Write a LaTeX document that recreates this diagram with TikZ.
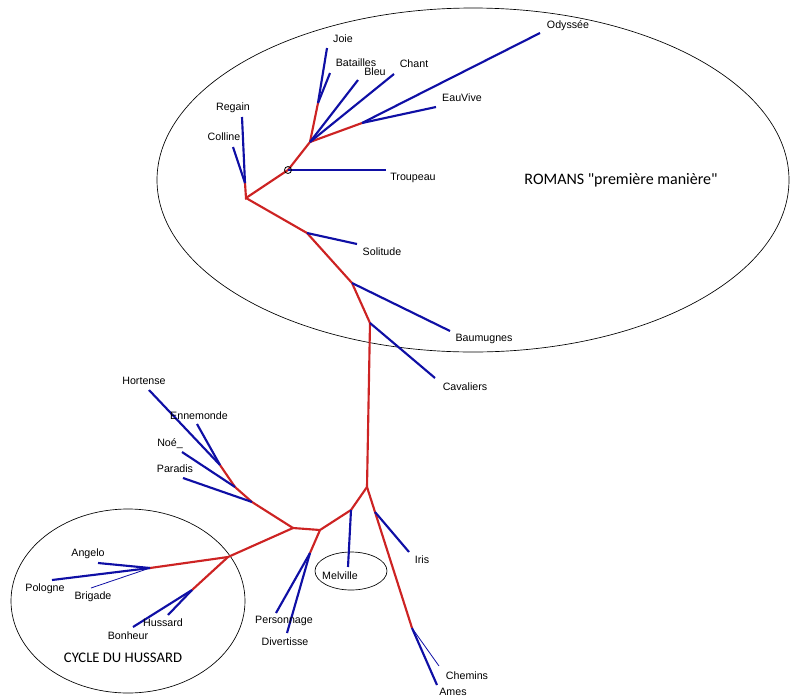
\documentclass[tikz,border=0pt]{standalone}
\usepackage{fontspec}
\setmainfont{Liberation Sans}
\newfontfamily\groupfont{Carlito}
\usepackage{tikz}
\definecolor{branchred}{RGB}{205,35,35}
\definecolor{leafblue}{RGB}{15,15,165}
\tikzset{
  inner/.style={draw=branchred, line width=1.6pt},
  leaf/.style={draw=leafblue, line width=1.6pt},
  thinleaf/.style={draw=leafblue, line width=0.6pt},
  title/.style={font=\fontsize{8}{9}\selectfont, inner sep=1pt},
  grouptitle/.style={font=\groupfont\fontsize{11}{13}\selectfont, inner sep=1pt},
  group/.style={draw, line width=0.5pt}
}

\begin{document}
\begin{tikzpicture}[x=0.75pt, y=-0.75pt]
\useasboundingbox (0,0) rectangle (793,697);

\draw[group] (473,180) ellipse (316 and 172);
\draw[group] (128,601) ellipse (117 and 92);
\draw[group] (351,571) ellipse (36 and 19);

\coordinate (a) at (246,198);
\coordinate (b) at (245,183);
\coordinate (c) at (288,170);
\coordinate (d) at (310,142);
\coordinate (e) at (318,103);
\coordinate (g) at (362,123);
\coordinate (h) at (307,233);
\coordinate (i) at (352,283);
\coordinate (j) at (370,323);
\coordinate (k) at (367,487);
\coordinate (l) at (351,510);
\coordinate (m) at (320,530);
\coordinate (n) at (310,553);
\coordinate (o) at (293,528);
\coordinate (p) at (252,502);
\coordinate (q) at (235,487);
\coordinate (r) at (220,465);
\coordinate (s) at (228,557);
\coordinate (t) at (150,568);
\coordinate (u) at (192,590);
\coordinate (v) at (375,512);
\coordinate (w) at (412,628);

\coordinate (regain) at (242,117);
\coordinate (colline) at (233,147);
\coordinate (troupeau) at (386,170);
\coordinate (joie) at (327,48);
\coordinate (batailles) at (330,73);
\coordinate (bleu) at (358,80);
\coordinate (chant) at (394,74);
\coordinate (odyssee) at (540,33);
\coordinate (eauvive) at (436,107);
\coordinate (solitude) at (357,244);
\coordinate (baumugnes) at (450,331);
\coordinate (cavaliers) at (435,378);
\coordinate (melville) at (348,567);
\coordinate (personnage) at (276,613);
\coordinate (divertisse) at (287,633);
\coordinate (paradis) at (183,478);
\coordinate (noe) at (182,452);
\coordinate (ennemonde) at (197,424);
\coordinate (hortense) at (149,390);
\coordinate (angelo) at (98,563);
\coordinate (pologne) at (52,580);
\coordinate (brigade) at (91,588);
\coordinate (bonheur) at (133,627);
\coordinate (hussard) at (168,615);
\coordinate (iris) at (409,552);
\coordinate (chemins) at (439,666);
\coordinate (ames) at (437,685);

\draw[inner] (b) -- (a) -- (c) -- (d) -- (e);
\draw[inner] (d) -- (g);
\draw[inner] (a) -- (h) -- (i) -- (j) -- (k) -- (l) -- (m) -- (o) -- (p) -- (q) -- (r);
\draw[inner] (m) -- (n);
\draw[inner] (o) -- (s) -- (t);
\draw[inner] (s) -- (u);
\draw[inner] (k) -- (v) -- (w);

\draw[leaf] (b) -- (regain);
\draw[leaf] (b) -- (colline);
\draw[leaf] (c) -- (troupeau);
\draw[leaf] (e) -- (joie);
\draw[leaf] (e) -- (batailles);
\draw[leaf] (d) -- (bleu);
\draw[leaf] (d) -- (chant);
\draw[leaf] (g) -- (odyssee);
\draw[leaf] (g) -- (eauvive);
\draw[leaf] (h) -- (solitude);
\draw[leaf] (i) -- (baumugnes);
\draw[leaf] (j) -- (cavaliers);
\draw[leaf] (l) -- (melville);
\draw[leaf] (n) -- (personnage);
\draw[leaf] (n) -- (divertisse);
\draw[leaf] (p) -- (paradis);
\draw[leaf] (q) -- (noe);
\draw[leaf] (r) -- (ennemonde);
\draw[leaf] (r) -- (hortense);
\draw[leaf] (t) -- (angelo);
\draw[leaf] (t) -- (pologne);
\draw[thinleaf] (t) -- (brigade);
\draw[leaf] (u) -- (bonheur);
\draw[leaf] (u) -- (hussard);
\draw[leaf] (v) -- (iris);
\draw[thinleaf] (w) -- (chemins);
\draw[leaf] (w) -- (ames);

\draw[line width=0.6pt] (c) circle (3.5);

\node[title] (tregain) at (233,108) {Regain};
\node[title] (tcolline) at (224,137) {Colline};
\node[title] (ttroupeau) at (413,178) {Troupeau};
\node[title] (tjoie) at (343,39) {Joie};
\node[title] (tbatailles) at (356,63) {Batailles};
\node[title] (tbleu) at (375,72) {Bleu};
\node[title] (tchant) at (414,64) {Chant};
\node[title] (todyssee) at (568,26) {Odyssée};
\node[title] (teauvive) at (462,98) {EauVive};
\node[title] (tsolitude) at (382,252) {Solitude};
\node[title] (tbaumugnes) at (484,339) {Baumugnes};
\node[title] (tcavaliers) at (465,387) {Cavaliers};
\node[title] (tmelville) at (340,576) {Melville};
\node[title] (tpersonnage) at (284,621) {Personnage};
\node[title] (tdivertisse) at (285,642) {Divertisse};
\node[title] (tparadis) at (175,469) {Paradis};
\node[title] (tnoe) at (170,444) {Noé\_};
\node[title] (tennemonde) at (199,416) {Ennemonde};
\node[title] (thortense) at (144,381) {Hortense};
\node[title] (tangelo) at (88,554) {Angelo};
\node[title] (tpologne) at (45,589) {Pologne};
\node[title] (tbrigade) at (93,597) {Brigade};
\node[title] (thussard) at (163,623) {Hussard};
\node[title] (tbonheur) at (128,636) {Bonheur};
\node[title] (tiris) at (422,560) {Iris};
\node[title] (tchemins) at (467,676) {Chemins};
\node[title] (tames) at (453,692) {Ames};

\node[grouptitle, font=\groupfont\fontsize{12}{14}\selectfont] (romans) at (621,180) {ROMANS "première manière"};
\node[grouptitle] (cycle) at (123,658) {CYCLE DU HUSSARD};
\end{tikzpicture}
\end{document}
